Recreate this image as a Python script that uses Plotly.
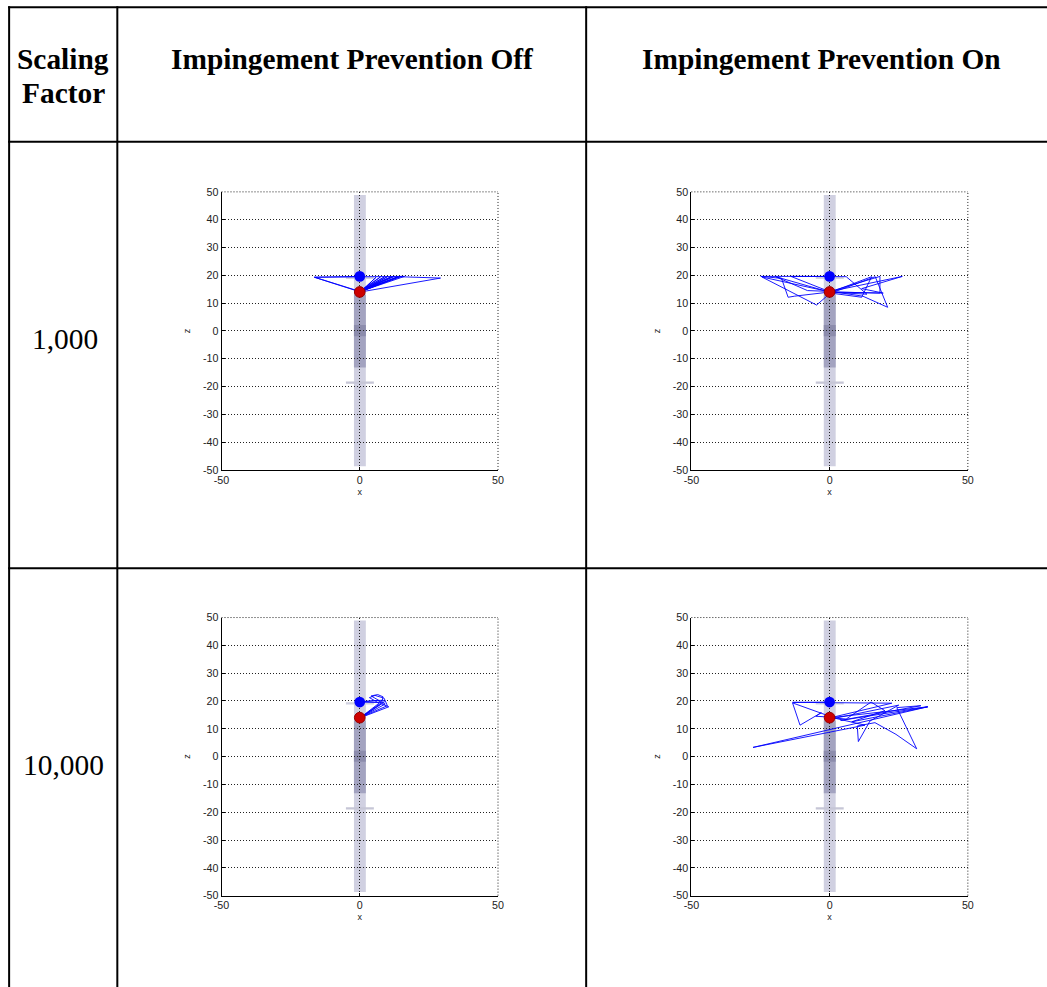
import plotly.graph_objects as go

# target picture size; the page is shown with an 8px body margin and scaled to fit
PAGE_W, PAGE_H = 1047, 987
OFF = 8
SX = (PAGE_W + 2 * OFF) / PAGE_W
SY = (PAGE_H + 2 * OFF) / PAGE_H
W, H = PAGE_W + OFF, PAGE_H + OFF

# ---------------- data ----------------
row_labels = ["1,000", "10,000"]
col_labels = ["Impingement Prevention Off", "Impingement Prevention On"]
corner_label = ["Scaling", "Factor"]

x_ticks = [-50, 0, 50]
x_tick_text = ["-50", "0", "50"]
y_ticks = [-50, -40, -30, -20, -10, 0, 10, 20, 30, 40, 50]
y_tick_text = ["-50", "-40", "-30", "-20", "-10", "0", "10", "20", "30", "40", "50"]

# markers (x, z)
blue_point = (0.0, 19.6)
red_point = (0.0, 14.0)

# trajectories (x, z) per panel
traj_1000_off_x = [0.0, -16.4, 16.2, 0.6, 15.0, 0.8, 13.8, 0.5, 12.5, 0.7, 11.4, 0.5, 10.0, 0.6, 8.9,
                   0.7, 7.5, 0.4, 5.9, 0.3, 29.2, 14.0, 0.4, -16.4, -1.9, 0.2]
traj_1000_off_z = [19.6, 19.3, 19.6, 14.3, 19.6, 14.6, 19.5, 14.2, 19.6, 14.8, 19.5, 14.1, 19.5, 14.4, 19.4,
                   14.8, 19.4, 14.2, 19.3, 14.0, 19.0, 19.5, 14.1, 19.3, 14.9, 14.0]

traj_1000_on_x = [0.0, -24.9, -17.4, -15.0, -12.6, 0.2, -24.5, -4.7, 0.5, -19.5, -8.0, 0.3,
                  18.2, 18.2, 0.6, 15.2, 11.6, 0.5, 16.5, 21.0, 12.0, 0.4, 26.3, 11.6, 19.4, 0.3,
                  -14.0, 6.0, 13.5, 0.5]
traj_1000_on_z = [19.6, 19.6, 18.9, 12.1, 12.5, 14.0, 19.4, 9.3, 13.8, 19.5, 14.5, 14.2,
                  19.6, 13.6, 14.0, 19.5, 12.1, 13.6, 19.5, 8.5, 12.5, 14.2, 19.6, 15.2, 13.6, 14.0,
                  19.6, 19.5, 13.2, 13.9]

traj_10000_off_x = [0.0, 7.7, 6.5, 0.3, 8.5, 8.9, 0.3, 10.5, 7.8, 0.4, 9.2, 4.1, 6.5, 8.4, 8.0,
                    0.5, 10.0, 8.8, 5.5, 3.5, 7.0, 0.2]
traj_10000_off_z = [19.6, 19.4, 20.2, 19.7, 20.3, 19.6, 14.0, 17.9, 19.0, 14.1, 18.9, 21.8, 22.3, 21.5, 19.5,
                    14.2, 18.3, 21.0, 22.0, 21.2, 19.2, 14.0]

traj_10000_on_x = [0.0, -13.4, 22.5, 0.5, 35.5, 4.0, 33.0, 24.3, 31.5, 24.0, 16.4, 10.0, 10.4, 14.6,
                   25.0, 2.0, -13.4, -10.7, -3.0, -5.0, 0.2, 12.8, -27.7, 0.1, 14.0, 35.5, 8.0, 20.0,
                   15.0, 6.0, 0.3]
traj_10000_on_z = [19.6, 19.5, 19.2, 14.0, 17.9, 13.0, 18.3, 17.6, 2.8, 8.0, 12.2, 11.0, 5.4, 12.8,
                   18.5, 13.8, 19.3, 11.3, 15.8, 14.5, 14.2, 11.3, 3.3, 9.8, 13.0, 17.9, 12.5, 16.5,
                   19.6, 13.5, 14.0]

panels = [
    (traj_1000_off_x, traj_1000_off_z),
    (traj_1000_on_x, traj_1000_on_z),
    (traj_10000_off_x, traj_10000_off_z),
    (traj_10000_on_x, traj_10000_on_z),
]

# background geometry (x0, x1, z0, z1)
shaft = (-2.1, 2.2, -48.7, 48.9)
shaft_mid = (-2.1, 2.2, -13.2, 13.0)
shaft_core = (-2.1, 2.2, -1.9, 2.1)
upper_plate = (-5.0, 5.1, 18.7, 19.5)
lower_plate = (-5.0, 5.1, -19.0, -18.2)

# ---------------- layout geometry (picture pixels -> paper) ----------------
def px(x):
    return (x * SX - OFF) / W

def py(y):
    return 1 - (y * SY - OFF) / H

col_dom = [[px(221), px(497)], [px(690), px(966)]]
row_dom = [[py(470), py(193)], [py(894), py(617)]]

fig = go.Figure()
layout = dict(
    width=W, height=H, margin=dict(l=0, r=0, t=0, b=0),
    paper_bgcolor="white", plot_bgcolor="white", showlegend=False,
)
shapes = []
DOT = "1px,2px"
sans = "Liberation Sans, Arial"
tick_font = dict(family=sans, size=10.7, color="#222")
title_font = dict(family=sans, size=9, color="#222")

for i in range(4):
    r, c = divmod(i, 2)
    n = i + 1
    xa = "xaxis" if n == 1 else f"xaxis{n}"
    ya = "yaxis" if n == 1 else f"yaxis{n}"
    xr = "x" if n == 1 else f"x{n}"
    yr = "y" if n == 1 else f"y{n}"
    common = dict(range=[-50, 50], showgrid=True, gridcolor="#222", griddash=DOT, gridwidth=1,
                  zeroline=False, showline=True, linecolor="black", linewidth=1,
                  ticks="inside", ticklen=3, tickcolor="black", tickfont=tick_font,
                  fixedrange=True)
    layout[xa] = dict(common, domain=col_dom[c], anchor=yr, tickmode="array", tickvals=x_ticks,
                      ticktext=x_tick_text, title=dict(text="x", font=title_font, standoff=3))
    layout[ya] = dict(common, domain=row_dom[r], anchor=xr, tickmode="array", tickvals=y_ticks,
                      ticktext=y_tick_text, title=dict(text="z", font=title_font, standoff=10))

    def rect(g, color):
        shapes.append(dict(type="rect", xref=xr, yref=yr, x0=g[0], x1=g[1], y0=g[2], y1=g[3],
                           fillcolor=color, line=dict(width=0), layer="below"))
    rect(shaft, "rgb(208,208,225)")
    rect(shaft_mid, "rgb(163,163,192)")
    rect(shaft_core, "rgb(140,140,172)")
    rect(upper_plate, "rgb(210,210,225)")
    rect(lower_plate, "rgb(198,198,214)")

    # dotted top / right box edges (grid at the range ends)
    shapes.append(dict(type="line", xref=f"{xr} domain", yref=f"{yr} domain", x0=0, x1=1, y0=1, y1=1,
                       line=dict(color="#222", width=1, dash=DOT)))
    shapes.append(dict(type="line", xref=f"{xr} domain", yref=f"{yr} domain", x0=1, x1=1, y0=0, y1=1,
                       line=dict(color="#222", width=1, dash=DOT)))

    tx, tz = panels[i]
    fig.add_trace(go.Scatter(x=tx, y=tz, mode="lines", xaxis=xr, yaxis=yr,
                             line=dict(color="rgb(0,0,255)", width=0.9), hoverinfo="skip"))
    fig.add_trace(go.Scatter(x=[blue_point[0]], y=[blue_point[1]], mode="markers", xaxis=xr, yaxis=yr,
                             marker=dict(color="rgb(0,0,255)", size=10.7, line=dict(width=0))))
    fig.add_trace(go.Scatter(x=[red_point[0]], y=[red_point[1]], mode="markers", xaxis=xr, yaxis=yr,
                             marker=dict(color="rgb(205,0,0)", size=10.7,
                                         line=dict(width=1, color="rgb(150,0,0)"))))

# table lines
def hline(y):
    shapes.append(dict(type="line", xref="paper", yref="paper", x0=px(8), x1=1.0, y0=py(y), y1=py(y),
                       line=dict(color="black", width=2)))

def vline(x):
    shapes.append(dict(type="line", xref="paper", yref="paper", x0=px(x), x1=px(x), y0=py(8), y1=0.0,
                       line=dict(color="black", width=2)))

for yy in (9, 143, 568):
    hline(yy)
for xx in (9, 117, 585):
    vline(xx)

annotations = []
serif = "Liberation Serif, Times New Roman"

def text(x, y, s, bold=False):
    annotations.append(dict(x=px(x), y=py(y), xref="paper", yref="paper", showarrow=False,
                            text=f"<b>{s}</b>" if bold else s, xanchor="center", yanchor="middle",
                            font=dict(family=serif, size=29.4, color="black")))

text(63, 61, corner_label[0], bold=True)
text(63, 95, corner_label[1], bold=True)
text(352, 61, col_labels[0], bold=True)
text(820, 61, col_labels[1], bold=True)
text(65, 340, row_labels[0])
text(63, 764, row_labels[1])

layout["shapes"] = shapes
layout["annotations"] = annotations
fig.update_layout(**layout)
fig.write_html("out.html")
